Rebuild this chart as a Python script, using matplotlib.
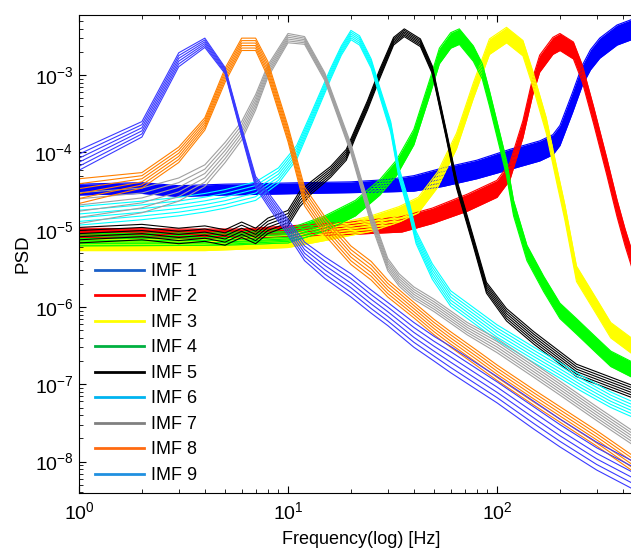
import numpy as np
import matplotlib
matplotlib.use("Agg")
import matplotlib.pyplot as plt
from matplotlib.lines import Line2D

plt.rcParams['font.family'] = ['Liberation Sans', 'DejaVu Sans']
plt.rcParams['mathtext.fontset'] = 'custom'
plt.rcParams['mathtext.rm'] = 'Liberation Sans'
plt.rcParams['mathtext.it'] = 'Liberation Sans'

# PSD of each IMF: frequency (Hz), log10(PSD) centre of the
# bundle of realisations, and half-width of the bundle in decades
imf1_f = [1, 2, 3, 5, 8, 12, 20, 30, 40, 55, 80, 115, 160, 185, 200, 230, 256, 280, 310, 375, 450]
imf1_p = [-4.48, -4.46, -4.5, -4.48, -4.47, -4.46, -4.45, -4.43, -4.40, -4.32, -4.22, -4.09, -3.98, -3.9, -3.78, -3.35, -3.0, -2.8, -2.65, -2.48, -2.4]
imf1_s = [0.07, 0.07, 0.07, 0.07, 0.07, 0.07, 0.07, 0.08, 0.1, 0.12, 0.12, 0.13, 0.13, 0.13, 0.13, 0.13, 0.13, 0.13, 0.13, 0.13, 0.13]

imf2_f = [1, 3, 6, 10, 20, 35, 49, 72, 100, 115, 133, 148, 160, 185, 200, 232, 256, 290, 335, 375, 410, 450]
imf2_p = [-5.04, -5.05, -5.05, -5.02, -4.98, -4.93, -4.82, -4.65, -4.47, -4.25, -3.7, -3.15, -2.85, -2.62, -2.57, -2.68, -2.98, -3.52, -4.18, -4.72, -5.1, -5.45]
imf2_s = [0.06, 0.06, 0.06, 0.07, 0.08, 0.1, 0.1, 0.11, 0.11, 0.11, 0.11, 0.11, 0.11, 0.11, 0.11, 0.11, 0.11, 0.11, 0.11, 0.11, 0.11, 0.11]

imf3_f = [1, 4, 10, 15, 25, 34, 42, 52, 64, 77, 92, 111, 133, 148, 172, 193, 211, 240, 300, 350, 450]
imf3_p = [-5.2, -5.2, -5.15, -5.05, -4.92, -4.8, -4.68, -4.35, -3.85, -3.2, -2.63, -2.48, -2.65, -3.04, -3.65, -4.29, -4.77, -5.57, -6.0, -6.3, -6.52]
imf3_s = [0.07, 0.07, 0.08, 0.09, 0.1, 0.1, 0.1, 0.1, 0.1, 0.1, 0.1, 0.1, 0.1, 0.1, 0.1, 0.1, 0.1, 0.1, 0.1, 0.1, 0.1]

imf4_f = [1, 5, 10, 15, 21, 27.5, 33, 40, 44, 48, 53, 60, 66, 77, 85, 92, 100, 111, 120, 139, 167, 200, 240, 300, 350, 450]
imf4_p = [-5.13, -5.12, -5.08, -4.92, -4.72, -4.45, -4.2, -3.8, -3.45, -3.13, -2.75, -2.55, -2.5, -2.72, -2.95, -3.3, -3.7, -4.2, -4.72, -5.3, -5.7, -6.05, -6.25, -6.5, -6.67, -6.82]
imf4_s = [0.08, 0.08, 0.09, 0.1, 0.1, 0.1, 0.1, 0.1, 0.1, 0.1, 0.1, 0.1, 0.1, 0.1, 0.1, 0.1, 0.1, 0.1, 0.1, 0.1, 0.1, 0.1, 0.1, 0.1, 0.1, 0.1]

imf5_f = [1, 2, 3, 4, 5, 6, 7, 8, 10, 11.4, 13, 16, 19, 21, 24, 27.5, 32, 36, 43, 49, 57, 64, 77, 89, 111, 150, 240, 450]
imf5_p = [-5.07, -5.03, -5.08, -5.05, -5.1, -5.0, -5.08, -4.95, -4.85, -4.6, -4.45, -4.25, -4.03, -3.75, -3.39, -2.98, -2.56, -2.45, -2.58, -2.93, -3.75, -4.4, -5.15, -5.75, -6.1, -6.4, -6.82, -7.1]
imf5_s = [0.1, 0.1, 0.1, 0.1, 0.1, 0.1, 0.1, 0.1, 0.1, 0.1, 0.08, 0.07, 0.07, 0.06, 0.06, 0.06, 0.05, 0.05, 0.05, 0.05, 0.05, 0.06, 0.06, 0.07, 0.08, 0.08, 0.08, 0.08]

imf6_f = [1, 2, 3, 4, 5, 7, 9, 11, 13, 16, 18, 20, 22, 25, 27.5, 31, 34, 38, 41, 49, 60, 86, 100, 150, 200, 250, 300, 350, 400, 450]
imf6_p = [-4.82, -4.75, -4.7, -4.65, -4.6, -4.5, -4.3, -4.0, -3.55, -2.98, -2.68, -2.48, -2.55, -2.85, -3.22, -3.67, -4.27, -4.72, -5.1, -5.54, -5.89, -6.2, -6.33, -6.62, -6.82, -6.98, -7.1, -7.2, -7.27, -7.33]
imf6_s = [0.12, 0.12, 0.12, 0.12, 0.12, 0.12, 0.1, 0.09, 0.08, 0.07, 0.06, 0.06, 0.06, 0.06, 0.06, 0.07, 0.07, 0.08, 0.08, 0.1, 0.1, 0.1, 0.1, 0.1, 0.1, 0.1, 0.1, 0.1, 0.1, 0.1]

imf7_f = [1, 2, 3, 4, 5, 6, 7, 8, 10, 12, 15, 20, 25, 30, 34, 40, 50, 72, 100, 150, 200, 300, 450]
imf7_p = [-4.72, -4.62, -4.48, -4.3, -4.0, -3.72, -3.35, -2.95, -2.52, -2.55, -3.02, -3.95, -4.85, -5.45, -5.65, -5.82, -5.98, -6.28, -6.5, -6.82, -7.05, -7.38, -7.7]
imf7_s = [0.2, 0.16, 0.15, 0.14, 0.13, 0.12, 0.1, 0.08, 0.06, 0.05, 0.05, 0.06, 0.08, 0.08, 0.08, 0.08, 0.08, 0.08, 0.09, 0.09, 0.09, 0.09, 0.09]

imf8_f = [1, 2, 3, 4, 5, 6, 7, 8, 10, 12, 15, 20, 25, 30, 40, 50, 60, 80, 100, 150, 200, 300, 450]
imf8_p = [-4.5, -4.36, -4.03, -3.63, -3.0, -2.6, -2.6, -2.92, -3.76, -4.57, -4.95, -5.33, -5.53, -5.76, -6.04, -6.26, -6.42, -6.66, -6.85, -7.17, -7.39, -7.7, -8.03]
imf8_s = [0.16, 0.1, 0.1, 0.08, 0.09, 0.08, 0.08, 0.1, 0.1, 0.12, 0.12, 0.12, 0.12, 0.11, 0.1, 0.1, 0.1, 0.1, 0.1, 0.1, 0.1, 0.1, 0.1]

imf9_f = [1, 2, 3, 4, 5, 6, 7, 8, 10, 12, 15, 20, 25, 30, 40, 50, 60, 80, 100, 150, 200, 300, 450]
imf9_p = [-4.1, -3.7, -2.8, -2.58, -2.94, -3.73, -4.38, -4.6, -4.97, -5.28, -5.49, -5.72, -5.93, -6.09, -6.36, -6.54, -6.68, -6.90, -7.07, -7.40, -7.63, -7.93, -8.18]
imf9_s = [0.13, 0.1, 0.09, 0.06, 0.04, 0.05, 0.07, 0.09, 0.1, 0.12, 0.14, 0.15, 0.15, 0.15, 0.16, 0.16, 0.17, 0.17, 0.17, 0.18, 0.18, 0.18, 0.18]

labels = ['IMF 1', 'IMF 2', 'IMF 3', 'IMF 4', 'IMF 5', 'IMF 6', 'IMF 7', 'IMF 8', 'IMF 9']
line_colors = ['#0000ff', '#ff0000', '#ffff00', '#00ff00', '#000000', '#00ffff', '#a0a0a0', '#ff8000', '#3a3aff']
legend_colors = ['#1a5fc8', '#ff0000', '#ffff00', '#00b040', '#000000', '#00b4f0', '#808080', '#ff6a10', '#2090e0']
noisy = [True, True, True, True, False, False, False, False, False]

x_ticks = [1, 10, 100]
y_ticks = [1e-8, 1e-7, 1e-6, 1e-5, 1e-4, 1e-3]

curves = [(imf1_f, imf1_p, imf1_s), (imf2_f, imf2_p, imf2_s), (imf3_f, imf3_p, imf3_s),
          (imf4_f, imf4_p, imf4_s), (imf5_f, imf5_p, imf5_s), (imf6_f, imf6_p, imf6_s),
          (imf7_f, imf7_p, imf7_s), (imf8_f, imf8_p, imf8_s), (imf9_f, imf9_p, imf9_s)]

# relative position of each realisation inside its bundle
realisations = [-1.0, -0.6, -0.2, 0.2, 0.6, 1.0]

fig = plt.figure(figsize=(6.31, 5.49), dpi=100)
ax = fig.add_axes([0.1252, 0.1025, 0.894, 0.870])

for (f, p, s), col, nz in zip(curves, line_colors, noisy):
    f = np.array(f)
    p = np.array(p)
    s = np.array(s)
    if nz:
        ax.fill_between(f, 10 ** (p - s), 10 ** (p + s), color=col, lw=0)
    for k in realisations:
        ax.plot(f, 10 ** (p + k * s), color=col, lw=0.8)

ax.set_xscale('log')
ax.set_yscale('log')
ax.set_xlim(1, 500)
ax.set_ylim(3.95e-9, 6e-3)
ax.set_xticks(x_ticks)
ax.set_xticklabels([r'$10^{%d}$' % int(np.log10(t)) for t in x_ticks])
ax.set_yticks(y_ticks)
ax.set_yticklabels([r'$10^{%d}$' % int(round(np.log10(t))) for t in y_ticks])

ax.tick_params(which='both', direction='in', top=True, right=True)
ax.tick_params(axis='both', which='major', length=5, labelsize=14)
ax.tick_params(axis='x', which='major', pad=6)
ax.tick_params(axis='y', which='major', pad=4)
ax.tick_params(which='minor', length=3)
ax.set_xlabel('Frequency(log) [Hz]', fontsize=13, labelpad=6)
ax.set_ylabel('PSD', fontsize=13.5, labelpad=2)

handles = [Line2D([], [], color=c, lw=2) for c in legend_colors]
ax.legend(handles, labels, loc='upper left', bbox_to_anchor=(0.0, 0.515), frameon=False,
          fontsize=13, handlelength=2.7, handletextpad=0.4, labelspacing=0.47,
          borderaxespad=0.5)

fig.savefig('out.png', dpi=100)
